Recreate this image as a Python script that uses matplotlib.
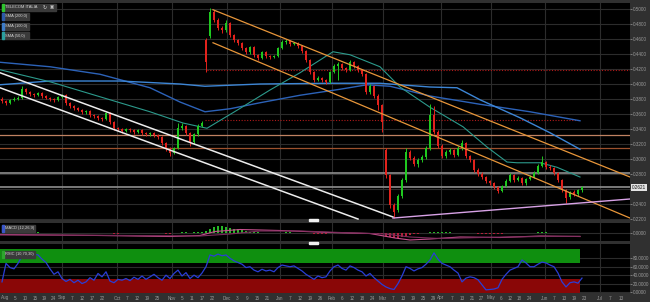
import matplotlib
matplotlib.use("Agg")
import matplotlib.pyplot as plt
from matplotlib.patches import Rectangle

plt.rcParams["font.family"] = ["Liberation Sans", "DejaVu Sans"]

# ---- daily bars (bar index 0 = early Aug) ----
opens = [
    .380, .377, .375, .379, .380, .381, .393, .389, .387, .385,
    .388, .384, .381, .380, .379, .383, .385, .375, .371, .368,
    .365, .363, .364, .359, .357, .355, .353, .361, .349, .341,
    .340, .337, .340, .339, .336, .339, .335, .333, .335, .332,
    .329, .321, .313, .308, .315, .341, .344, .335, .323, .333,
    .344,
    .459, .464, .496, .485, .475, .472, .481, .465, .459, .455,
    .448, .443, .449, .439, .435, .443, .437, .436, .437, .448,
    .456, .457, .453, .455, .451, .444, .432, .416, .405, .408,
    .405, .403, .416, .424, .427, .421, .419, .429, .424, .419,
    .413, .389, .397, .384, .372,
    .312, .279, .239, .232, .251, .272, .309, .301, .293, .299,
    .303, .315, .359, .336, .317, .304, .309, .312, .305, .315,
    .321, .304, .299, .285, .280, .276, .271, .268, .263, .257,
    .264, .271, .279, .272, .275, .268, .273, .276, .281, .291,
    .296, .289, .288, .281, .272, .259, .249, .256, .253, .259,
]
closes = [
    .377, .375, .379, .380, .381, .393, .389, .387, .385, .388,
    .384, .381, .380, .379, .383, .385, .375, .371, .368, .365,
    .363, .364, .359, .357, .355, .353, .361, .349, .341, .340,
    .337, .340, .339, .336, .339, .335, .333, .335, .332, .329,
    .321, .313, .308, .315, .341, .344, .335, .323, .333, .344,
    .348,
    .429, .496, .485, .475, .472, .481, .465, .459, .455, .448,
    .443, .449, .439, .435, .443, .437, .436, .437, .448, .456,
    .457, .453, .455, .451, .444, .432, .416, .405, .408, .405,
    .403, .416, .424, .427, .421, .419, .429, .424, .419, .413,
    .389, .397, .384, .372, .349,
    .279, .239, .229, .251, .272, .309, .301, .293, .299, .303,
    .315, .359, .336, .317, .304, .309, .312, .305, .315, .321,
    .304, .299, .285, .280, .276, .271, .268, .263, .257, .264,
    .271, .279, .272, .275, .268, .273, .276, .281, .291, .296,
    .289, .288, .281, .272, .259, .248, .256, .253, .259, .2621,
]
highs = [
    .383, .379, .380, .383, .384, .397, .395, .391, .388, .389,
    .389, .385, .383, .381, .384, .387, .387, .376, .372, .369,
    .367, .365, .365, .360, .359, .356, .363, .363, .351, .343,
    .341, .341, .341, .340, .340, .340, .336, .336, .336, .333,
    .331, .323, .316, .316, .348, .348, .345, .336, .335, .347,
    .351,
    .461, .501, .499, .488, .477, .485, .483, .467, .460, .456,
    .449, .451, .451, .440, .444, .444, .439, .439, .449, .459,
    .460, .459, .456, .456, .452, .445, .433, .417, .411, .409,
    .407, .417, .427, .429, .428, .423, .432, .431, .425, .420,
    .415, .400, .399, .387, .373,
    .315, .280, .241, .253, .275, .315, .312, .304, .301, .305,
    .317, .373, .371, .339, .320, .312, .315, .313, .317, .325,
    .323, .305, .300, .288, .283, .277, .272, .269, .264, .265,
    .273, .281, .280, .277, .276, .275, .279, .284, .293, .304,
    .297, .292, .289, .283, .273, .260, .257, .259, .260, .264,
]
lows = [
    .375, .372, .373, .377, .379, .380, .387, .384, .383, .384,
    .381, .380, .377, .376, .377, .381, .372, .368, .365, .364,
    .360, .360, .356, .355, .352, .351, .352, .347, .339, .337,
    .335, .336, .336, .333, .335, .332, .331, .331, .329, .327,
    .319, .311, .304, .307, .313, .339, .332, .317, .320, .331,
    .343,
    .416, .461, .483, .472, .468, .469, .463, .456, .452, .445,
    .440, .440, .436, .432, .433, .435, .433, .435, .436, .447,
    .453, .451, .452, .448, .441, .429, .413, .403, .404, .403,
    .400, .401, .415, .405, .419, .416, .417, .421, .416, .411,
    .387, .387, .381, .365, .336,
    .275, .235, .221, .229, .248, .269, .299, .291, .289, .296,
    .300, .312, .333, .315, .301, .301, .307, .303, .304, .312,
    .301, .296, .283, .277, .273, .268, .265, .260, .255, .256,
    .263, .269, .269, .271, .265, .265, .272, .275, .280, .289,
    .287, .285, .279, .269, .256, .241, .247, .251, .251, .256,
]

# ---- moving averages, read at bar positions ----
sma200_x = [-0.5, 12, 24.5, 37, 44.5, 50.75, 57, 64.5, 74.5, 84.5, 91.25, 97, 107, 119.5, 132, 144.5]
sma200 = [.429, .423, .413, .395, .376, .363, .367, .375, .385, .393, .399, .397, .384, .373, .363, .351]
sma100_x = [-0.5, 12, 29.5, 44.5, 50.75, 64.5, 82, 94.5, 107, 113.75, 119.5, 129.5, 137, 144.5]
sma100 = [.399, .404, .404, .400, .397, .400, .401, .401, .396, .395, .379, .355, .335, .313]
sma50_x = [-0.5, 12, 24.5, 37, 45.25, 51.25, 58.75, 67, 74.5, 82.75, 87, 94.5, 99.5, 107,
           115.25, 121.25, 126.25, 128.75, 134.5, 138.75, 144.5]
sma50 = [.419, .403, .383, .363, .348, .341, .365, .392, .415, .443, .439, .423, .396, .369,
         .343, .316, .296, .295, .295, .289, .276]

# ---- drawn studies (bar index, price) ----
white_hi = ([-0.5, 97.75], [.415, .2227])
white_lo = ([-0.5, 89], [.395, .220])
orange_hi = ([52.75, 157], [.499, .276])
orange_lo = ([52.75, 157], [.455, .2213])
pink_line = ([97.75, 157], [.2213, .2467])
hlines_full = [(.332, "#c08262"), (.315, "#9c512e")]
grey_levels = [.281, .2621]
red_dotted = [(.419, 51.25, 157), (.352, 50.75, 144.5)]

# ---- MACD (x 0.001) ----
macd_hist = [
    .4, .4, .5, .5, .5, .8, .8, .7, .6, .6, .5, .4, .3, .3, .3, .3,
    -.2, -.3, -.3, -.4, -.4, -.3, -.4, -.4, -.3, -.3, 0, -.3, -.5, -.5,
    -.4, -.3, -.2, -.2, -.1, -.1, 0, .1, 0, -.1, -.3, -.5, -.6, -.4,
    .5, .8, .7, .5, .7, 1.0, 1.3,
    2.5, 4.5, 6.0, 6.8, 6.8, 6.2, 5.4, 4.5, 3.6, 2.8,
    2.0, 1.4, .9, .6, .4, .2, .1, .1, .3, .5, .6, .6, .5, .4, .2,
    -.1, -.4, -.6, -.6, -.6, -.6, -.3, 0, .2, .2, .2, .3, .3, .2, 0, -.3, -.3, -.5, -.8, -1.4,
    -2.5, -3.8, -4.6, -4.5, -3.8, -2.5, -1.8, -1.2, -.8, -.4, 0,
    1.0, 1.4, 1.3, 1.0, .8, .6, .4, .4, .4, .1, -.1, -.4, -.5, -.6, -.7, -.7, -.7, -.7,
    -.5, -.3, 0, .1, .2, .3, .3, .4, .5, .6, .7, .6, .5, .4, .2, -.1, -.3, -.4, -.4, -.3, -.2,
]
macd_x = [-0.5, 24.5, 42, 49.5, 53.25, 59.5, 69.5, 82, 92, 98.25, 102, 107, 114.5, 124.5, 134.5, 144.5]
macd_line = [-1.5, -2.5, -3.5, -2.5, 1.5, 3.5, 2.5, .5, -.5, -5, -7, -6, -4, -4.5, -3, -3.5]
signal_x = [-0.5, 24.5, 49.5, 57, 64.5, 74.5, 84.5, 95.75, 102, 109.5, 119.5, 134.5, 144.5]
signal_line = [-2, -2.3, -3, -1, 2, 2, .5, -1, -4, -5.5, -4.5, -3.5, -3.3]

# ---- RSI ----
rsi = [
    24, 68, 58, 55, 68, 85, 80, 83, 90, 88,
    78, 70, 55, 42, 48, 32, 25, 30, 22, 28,
    20, 24, 34, 28, 44, 36, 48, 26, 22, 30,
    28, 32, 27, 35, 30, 38, 30, 36, 42, 34,
    28, 40, 32, 44, 52, 38, 46, 32, 40, 34,
    45, 60, 88, 85, 90, 86, 88, 80, 74, 70,
    66, 58, 60, 52, 48, 54, 50, 52, 48, 58,
    64, 62, 60, 62, 56, 50, 42, 36, 30, 38,
    34, 36, 50, 60, 64, 56, 52, 62, 58, 52,
    48, 38, 44, 34, 26, 18, 12, 8, 6, 20,
    38, 60, 56, 50, 55, 58, 66, 76, 93, 78,
    68, 64, 60, 52, 45, 24, 33, 36, 34, 29,
    17, 5, 6, 7, 10, 30, 42, 52, 56, 60,
    76, 69, 60, 60, 66, 71, 69, 64, 60, 45,
    24, 12, 22, 24, 21, 33,
]

# ---- time axis labels ----
tick_pos = [0.75, 3.25, 5.75, 8.25, 10.5, 12.75, 15, 17.5, 20, 22.5, 25,
            28.75, 31.25, 33.75, 36.25, 38.75, 42.5, 45, 47.5, 50, 52.5,
            56.25, 58.75, 61.25, 63.75, 66.25, 69.5, 72, 74.5, 77, 79.5,
            82.5, 85, 87.5, 90, 92.5, 95.25, 97.75, 100.25, 102.75, 105.25, 107.75,
            109.75, 112.5, 115, 117.5, 119.75, 122.25, 124.75, 127, 129.25, 131.75,
            135.75, 138, 140.5, 143, 145.5, 149.5, 152, 154.75]
tick_lbl = ["Aug", "5", "10", "15", "19", "24", "Sep", "7", "12", "17", "22",
            "Oct", "7", "12", "19", "25", "Nov", "5", "11", "17", "22",
            "Dec", "3", "9", "15", "21", "Jan", "7", "12", "19", "26",
            "Feb", "6", "12", "18", "24", "Mar", "7", "13", "19", "25", "29",
            "Apr", "7", "13", "21", "27", "May", "6", "12", "18", "24",
            "Jun", "7", "13", "19", "23", "Jul", "7", "13"]

W, H = 650, 302
STRIP = "#303030"
GRID = "#2c2c2c"
TXT = "#9a9a9a"
UP = "#1fc81f"
DOWN = "#e2221c"
FS = 3.3


def rect(l, t, r, b):
    return [l / W, 1 - b / H, (r - l) / W, (b - t) / H]


fig = plt.figure(figsize=(W / 100, H / 100), dpi=100, facecolor=STRIP)
ax = fig.add_axes(rect(0, 3, 630, 220))
axm = fig.add_axes(rect(0, 223, 630, 241), sharex=ax)
axr = fig.add_axes(rect(0, 244, 630, 293), sharex=ax)

months = [p for p, l in zip(tick_pos, tick_lbl) if l.isalpha() and l != "Aug"]
for a in (ax, axm, axr):
    a.set_facecolor("black")
    for s in a.spines.values():
        s.set_visible(False)
    a.yaxis.tick_right()
    a.tick_params(axis="y", labelsize=FS, colors=TXT, length=1.2, width=0.5, pad=0.6)
    a.tick_params(axis="x", length=0)
    for m in months:
        a.axvline(m, color=GRID, lw=0.8, zorder=0)

n = len(closes)
idx = list(range(n))
ax.set_xlim(-0.5, 157)

# main price panel
ax.set_ylim(0.2187, 0.508)
yt = [0.22 + 0.02 * k for k in range(15)]
ax.set_yticks(yt)
# the 0.2600 label sits under the last-price tag
ax.set_yticklabels(["" if abs(v - 0.26) < 1e-6 else "%.4f" % v for v in yt])
for v in yt:
    ax.axhline(v, color=GRID, lw=0.8, zorder=0)
ax.tick_params(axis="x", labelbottom=False)

for lvl, c in hlines_full:
    ax.axhline(lvl, color=c, lw=0.9, zorder=1)
for lvl in grey_levels:
    ax.axhline(lvl, color="#8e8e8e", lw=1.2, zorder=1)
for lvl, x0, x1 in red_dotted:
    ax.plot([x0, x1], [lvl, lvl], color="#b01a1a", lw=0.8, ls=(0, (1, 1.5)), zorder=1)

ax.plot(sma200_x, sma200, color="#2c62b8", lw=1.0, zorder=2)
ax.plot(sma100_x, sma100, color="#3d86d6", lw=1.0, zorder=2)
ax.plot(sma50_x, sma50, color="#2c9a8c", lw=0.8, zorder=2)

cols = [UP if c >= o else DOWN for o, c in zip(opens, closes)]
ax.vlines(idx, lows, highs, colors=cols, lw=0.7, zorder=3)
ax.bar(idx, [max(abs(c - o), 0.001) for o, c in zip(opens, closes)],
       bottom=[min(o, c) for o, c in zip(opens, closes)], width=0.6,
       color=cols, lw=0, zorder=3)

for xs, ys in (white_hi, white_lo):
    ax.plot(xs, ys, color="#ececec", lw=1.1, zorder=4)
for xs, ys in (orange_hi, orange_lo):
    ax.plot(xs, ys, color="#e8963a", lw=0.9, zorder=4)
ax.plot(*pink_line, color="#d8a2e6", lw=1.0, zorder=4)

ax.text(1.003, closes[-1], "%.4f" % closes[-1], transform=ax.get_yaxis_transform(),
        ha="left", va="center", fontsize=FS, color="#111111", zorder=6, clip_on=False,
        bbox=dict(boxstyle="square,pad=0.25", fc="#e4e4e4", ec="none"))

# MACD panel
axm.set_ylim(-0.008, 0.010)
axm.set_yticks([0])
axm.set_yticklabels(["0.0000"])
axm.axhline(0, color=GRID, lw=0.8, zorder=0)
axm.tick_params(axis="x", labelbottom=False)
hv = [h * 0.001 for h in macd_hist]
axm.bar(idx, hv, width=0.6, color=["#27b827" if v >= 0 else "#b3203a" for v in hv], lw=0, zorder=2)
axm.plot(macd_x, [v * 0.001 for v in macd_line], color="#c8508e", lw=0.8, zorder=3)
axm.plot(signal_x, [v * 0.001 for v in signal_line], color="#7c2d5c", lw=0.8, zorder=3)

# RSI panel
axr.set_ylim(-2.4, 114)
rt = [0, 20, 40, 60, 80]
axr.set_yticks(rt)
axr.set_yticklabels(["%.4f" % v for v in rt])
for v in rt:
    axr.axhline(v, color=GRID, lw=0.8, zorder=0)
axr.fill_between([-0.5, n - 1.5], 70, 102, color="#0f8f0f", lw=0, zorder=1)
axr.fill_between([-0.5, n - 1.5], -2.4, 30, color="#8a0707", lw=0, zorder=1)
axr.plot(idx, rsi, color="#2a3ed6", lw=0.9, zorder=3)
axr.set_xticks(tick_pos)
axr.set_xticklabels(tick_lbl)
axr.tick_params(axis="x", labelsize=FS, colors=TXT, pad=1.8)

# study labels (top-left boxes)
labels = [
    (4, 11, 56, "TELECOM ITALIA", "#2ec52e"),
    (13, 20, 29, "SMA (200,0)", "#2c5aa8"),
    (23, 30, 29, "SMA (100,0)", "#3d7cc8"),
    (32, 39, 29, "SMA (50,0)", "#2a9e9e"),
    (225, 232, 35, "MACD (12,26,9)", "#3a56c8"),
    (251, 258, 35, "RSIC (10,70,30)", "#2ea62e"),
]
for t, b, r, s, c in labels:
    fig.add_artist(Rectangle(rect(2, t, r, b)[:2], (r - 2) / W, (b - t) / H,
                             transform=fig.transFigure, color="#3a3a3a", zorder=10))
    fig.add_artist(Rectangle(rect(2, t, 3.5, b)[:2], 1.5 / W, (b - t) / H,
                             transform=fig.transFigure, color=c, zorder=11))
    fig.text(5 / W, 1 - (t + b) / 2 / H, s, fontsize=2.9, color="#d6d6d6",
             va="center", ha="left", zorder=12)
fig.text(45 / W, 1 - 7.5 / H, "\u21bb", fontsize=3.6, color="#cfcfcf", va="center", ha="center", zorder=12)
fig.text(51.5 / W, 1 - 7.5 / H, "\u25a3", fontsize=3.2, color="#cfcfcf", va="center", ha="center", zorder=12)

# panel resize handles
for y in (219, 242):
    fig.add_artist(Rectangle(rect(309, y, 318, y + 2)[:2], 9 / W, 2 / H,
                             transform=fig.transFigure, color="#f0f0f0", zorder=10))

fig.savefig("out.png", dpi=100, facecolor=STRIP)
